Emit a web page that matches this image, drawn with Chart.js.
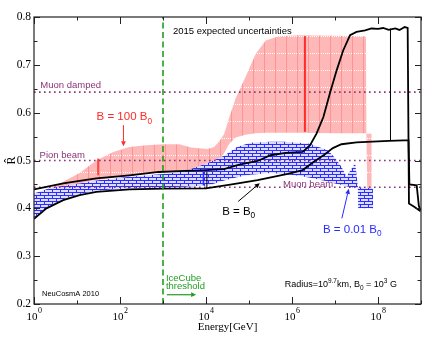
<!DOCTYPE html>
<html><head><meta charset="utf-8">
<script src="https://cdn.jsdelivr.net/npm/chart.js@4.4.0/dist/chart.umd.min.js"></script>
<style>html,body{margin:0;padding:0;background:#fff}</style>
</head><body>
<canvas id="c" width="438" height="338"></canvas>
<script>
// ---------- axes ----------
const xDecades = [0,1,2,3,4,5,6,7,8,9];
const xLabelled = [0,2,4,6,8];
const yMinorTicks = [0.25,0.35,0.45,0.55,0.65,0.75];

// ---------- reference flavour ratios ----------
const refLevels = [0.643, 0.5, 0.444];
const refNames = ['Muon damped', 'Pion beam', 'Muon beam'];
const thresholdLogE = 3;

// ---------- B = B0 (black curves) : log10(E/GeV), R ----------
const bB0UpperLogE = [0,0.68,1.06,1.45,2.22,2.9,3.65,4.0,4.42,4.75,5.2,5.5,5.85,6.25,6.42,6.57,6.73,6.88,7.04,7.19,7.35,7.5,7.7,7.85,8.0,8.12,8.25,8.4,8.5,8.62,8.69,8.72,8.85,8.99];
const bB0UpperR    = [0.4395,0.452,0.4575,0.4625,0.469,0.476,0.479,0.480,0.482,0.491,0.499,0.511,0.516,0.518,0.532,0.556,0.591,0.640,0.689,0.730,0.762,0.769,0.772,0.776,0.775,0.777,0.773,0.776,0.773,0.779,0.777,0.41,0.403,0.394];
const bB0LowerLogE = [0,0.29,0.68,1.06,1.45,2.22,3.0,4.0,4.6,5.2,5.9,6.25,6.5,6.75,6.95,7.15,7.5,7.75,8.25,8.6,8.71,8.73,8.9,8.95,8.99];
const bB0LowerR    = [0.378,0.400,0.417,0.4276,0.4345,0.4395,0.441,0.4416,0.450,0.459,0.472,0.480,0.497,0.512,0.526,0.534,0.538,0.539,0.541,0.542,0.542,0.450,0.448,0.405,0.396];

// ---------- B = 100 B0 (red band) ----------
const b100LogE = [0,0.35,0.68,1.06,1.45,1.84,2.22,2.61,3.0,3.38,3.65,4.03,4.19,4.31,4.42,4.54,4.69,4.92,5.16,5.39,5.69,6.16,7.0,7.72,7.73,7.75,7.85,7.86];
const b100Hi   = [0.430,0.440,0.4555,0.474,0.500,0.518,0.528,0.532,0.534,0.534,0.527,0.524,0.528,0.540,0.555,0.590,0.630,0.675,0.7235,0.751,0.760,0.762,0.761,0.760,0.557,0.556,0.556,0.440];
const b100Lo   = [0.428,0.434,0.444,0.452,0.459,0.464,0.468,0.472,0.476,0.479,0.481,0.485,0.490,0.500,0.515,0.535,0.548,0.554,0.557,0.558,0.558,0.558,0.557,0.557,0.557,0.440,0.440,0.440];

// ---------- B = 0.01 B0 (blue band) ----------
const b001LogE = [0,0.29,0.68,1.06,1.45,2.22,3.0,3.5,3.65,4.03,4.42,4.72,5.03,5.5,5.8,6.16,6.42,6.84,7.0,7.15,7.27,7.35,7.47,7.53,7.54,7.88,7.89];
const b001Hi   = [0.431,0.440,0.447,0.452,0.458,0.466,0.472,0.477,0.482,0.494,0.510,0.528,0.537,0.539,0.539,0.537,0.535,0.521,0.505,0.487,0.466,0.478,0.494,0.446,0.444,0.442,0.400];
const b001Lo   = [0.380,0.402,0.419,0.430,0.437,0.442,0.444,0.445,0.446,0.447,0.458,0.465,0.470,0.474,0.472,0.468,0.464,0.456,0.452,0.449,0.446,0.444,0.443,0.442,0.400,0.400,0.400];

// ---------- representative uncertainty bars ----------
const barLogE = [1.49, 6.30, 3.94, 4.02, 8.29];
const barLo   = [0.469, 0.560, 0.448, 0.442, 0.541];
const barHi   = [0.504, 0.760, 0.476, 0.476, 0.776];
const barSeries = ['red','red','blue','black','black'];

// ---------- helpers ----------
const E = l => Math.pow(10, l);
const pts = (le, v) => le.map((e, i) => ({x: E(e), y: v[i]}));
const ctx0 = document.getElementById('c').getContext('2d');

function redPattern() {
  const c = document.createElement('canvas'); c.width = 11; c.height = 17;
  const g = c.getContext('2d');
  g.fillStyle = '#ffb8b8'; g.fillRect(0,0,11,17);
  g.fillStyle = '#ff9494'; g.fillRect(0,0,1,17);
  g.fillStyle = '#ffffff'; for (let i = 2; i < 11; i += 2) g.fillRect(i,2,1,1);
  return ctx0.createPattern(c, 'repeat');
}
function bluePattern() {
  const c = document.createElement('canvas'); c.width = 8; c.height = 6;
  const g = c.getContext('2d');
  g.fillStyle = '#dcdcff'; g.fillRect(0,0,8,6);
  g.fillStyle = '#2c2cff';
  g.fillRect(0,0,8,1); g.fillRect(0,3,8,1); g.fillRect(0,0,1,3); g.fillRect(4,3,1,3);
  return ctx0.createPattern(c, 'repeat');
}

const colors = {red:'#ff2a2a', blue:'#2a2aff', black:'#000000'};
const purple = '#8a3479';
const green = '#1f9e1f';

const datasets = [];
datasets.push({label:'B=100B0 hi', data:pts(b100LogE,b100Hi), borderColor:'transparent', borderWidth:0, fill:false, order:30});
datasets.push({label:'B=100B0 lo', data:pts(b100LogE,b100Lo), borderColor:'transparent', borderWidth:0, backgroundColor:redPattern(), fill:'-1', order:30});
datasets.push({label:'B=0.01B0 hi', data:pts(b001LogE,b001Hi), borderColor:'transparent', borderWidth:0, fill:false, order:20});
datasets.push({label:'B=0.01B0 lo', data:pts(b001LogE,b001Lo), borderColor:'transparent', borderWidth:0, backgroundColor:bluePattern(), fill:'-1', order:20});
refLevels.forEach((v, i) => datasets.push({label:refNames[i], data:[{x:E(0),y:v},{x:E(9),y:v}], borderColor:purple, borderWidth:1.6, borderDash:[1.6,3.4], fill:false, order:12}));
barLogE.forEach((e, i) => datasets.push({label:'bar'+i, data:[{x:E(e),y:barLo[i]},{x:E(e),y:barHi[i]}], borderColor:colors[barSeries[i]], borderWidth: barSeries[i]==='black'?1:(i===1?2:1.5), fill:false, order:10}));
datasets.push({label:'B=B0 upper', data:pts(bB0UpperLogE,bB0UpperR), borderColor:'#000', borderWidth:1.8, fill:false, order:5});
datasets.push({label:'B=B0 lower', data:pts(bB0LowerLogE,bB0LowerR), borderColor:'#000', borderWidth:1.8, fill:false, order:5});
datasets.push({label:'IceCube threshold', data:[{x:E(thresholdLogE),y:0.2},{x:E(thresholdLogE),y:0.8}], borderColor:green, borderWidth:1.6, borderDash:[6,3.5], fill:false, order:1});

const SANS = '"Liberation Sans", Arial, Helvetica, sans-serif';
const SERIF = '"Liberation Serif", "Times New Roman", serif';

function rich(ctx, parts, x, y, size, color, align) {
  ctx.fillStyle = color; ctx.textBaseline = 'middle'; ctx.textAlign = 'left';
  let total = 0;
  parts.forEach(p => { const s = p[1] ? size*0.72 : size; ctx.font = s + 'px ' + SANS; total += ctx.measureText(p[0]).width; });
  let cx = align === 'center' ? x - total/2 : x;
  parts.forEach(p => {
    const s = p[1] ? size*0.72 : size;
    ctx.font = s + 'px ' + SANS;
    const dy = p[1] === 'sub' ? size*0.38 : (p[1] === 'sup' ? -size*0.38 : 0);
    ctx.fillText(p[0], cx, y + dy);
    cx += ctx.measureText(p[0]).width;
  });
}
function arrow(ctx, x1, y1, x2, y2, color, w) {
  ctx.strokeStyle = color; ctx.fillStyle = color; ctx.lineWidth = w || 1;
  const ang = Math.atan2(y2-y1, x2-x1), h = 5, hw = 2.4;
  const bx = x2 - h*Math.cos(ang), by = y2 - h*Math.sin(ang);
  ctx.beginPath(); ctx.moveTo(x1,y1); ctx.lineTo(bx,by); ctx.stroke();
  ctx.beginPath(); ctx.moveTo(x2,y2);
  ctx.lineTo(bx + hw*Math.sin(ang), by - hw*Math.cos(ang));
  ctx.lineTo(bx - hw*Math.sin(ang), by + hw*Math.cos(ang));
  ctx.closePath(); ctx.fill();
}

const deco = {
  id: 'deco',
  afterDraw(chart) {
    const {ctx, chartArea: a, scales: {x, y}} = chart;
    const X = l => x.getPixelForValue(E(l));
    const Y = v => y.getPixelForValue(v);
    ctx.save();
    ctx.strokeStyle = '#222'; ctx.lineWidth = 1.2;
    ctx.strokeRect(a.left, a.top, a.right - a.left, a.bottom - a.top);
    ctx.lineWidth = 1; ctx.strokeStyle = '#222';
    const seg = (x1,y1,x2,y2) => { ctx.beginPath(); ctx.moveTo(x1,y1); ctx.lineTo(x2,y2); ctx.stroke(); };
    y.ticks.forEach(t => { const p = Math.round(Y(t.value)) + 0.5; seg(a.left,p,a.left+6,p); seg(a.right,p,a.right-6,p); });
    yMinorTicks.forEach(v => { const p = Math.round(Y(v)) + 0.5; seg(a.left,p,a.left+3.5,p); seg(a.right,p,a.right-3.5,p); });
    xDecades.forEach(d => {
      const p = Math.round(X(d)) + 0.5; const L = xLabelled.includes(d) ? 7 : 3.5;
      seg(p,a.bottom,p,a.bottom-L); seg(p,a.top,p,a.top+L);
    });
    ctx.fillStyle = '#000'; ctx.textBaseline = 'alphabetic'; ctx.textAlign = 'left';
    xLabelled.forEach(d => {
      ctx.font = '11px ' + SERIF; const w1 = ctx.measureText('10').width;
      ctx.font = '8px ' + SERIF; const w2 = ctx.measureText(String(d)).width;
      const sx = X(d) - (w1 + w2)/2;
      ctx.font = '11px ' + SERIF; ctx.fillText('10', sx, a.bottom + 15.5);
      ctx.font = '8px ' + SERIF; ctx.fillText(String(d), sx + w1 + 0.5, a.bottom + 8.5);
    });
    rich(ctx, [['2015 expected uncertainties']], X(3.23), Y(0.769), 9.5, '#000');
    rich(ctx, [[refNames[0]]], X(0.146), Y(0.657), 9.5, purple);
    rich(ctx, [[refNames[1]]], X(0.13), Y(0.511), 9.5, purple);
    rich(ctx, [[refNames[2]]], X(5.79), Y(0.4505), 9.5, purple);
    rich(ctx, [['B = 100 B'],['0','sub']], X(1.455), Y(0.591), 11.5, colors.red);
    arrow(ctx, X(2.08), Y(0.574), X(2.08), Y(0.530), colors.red, 1);
    rich(ctx, [['B = B'],['0','sub']], X(4.375), Y(0.3936), 11.5, '#000');
    arrow(ctx, X(4.75), Y(0.4145), X(5.25), Y(0.4527), '#000', 1);
    rich(ctx, [['B = 0.01 B'],['0','sub']], X(6.72), Y(0.3555), 11.5, colors.blue);
    arrow(ctx, X(7.16), Y(0.3792), X(7.32), Y(0.4408), colors.blue, 1);
    rich(ctx, [['NeuCosmA 2010']], X(0.186), Y(0.2209), 7.5, '#000');
    rich(ctx, [['IceCube']], X(3.067), Y(0.2543), 9.5, green);
    rich(ctx, [['threshold']], X(3.067), Y(0.2369), 9.5, green);
    arrow(ctx, X(3.09), Y(0.2194), X(3.77), Y(0.2194), green, 1.2);
    rich(ctx, [['Radius=10'],['9.7','sup'],['km, B'],['0','sub'],[' = 10'],['3','sup'],[' G']], X(5.83), Y(0.2403), 9, '#000');
    ctx.restore();
  }
};

new Chart(ctx0, {
  type: 'line',
  data: {datasets},
  options: {
    responsive: false, animation: false, events: [], devicePixelRatio: 1,
    layout: {padding: {top: 17, right: 17, left: 0, bottom: 0}},
    elements: {point: {radius: 0}, line: {tension: 0}},
    plugins: {legend: {display: false}, tooltip: {enabled: false}, filler: {propagate: false, drawTime: 'beforeDatasetDraw'}},
    scales: {
      x: {type: 'logarithmic', min: 1, max: 1e9,
          grid: {display: false, drawTicks: false}, border: {display: false},
          ticks: {display: false},
          title: {display: true, text: 'Energy[GeV]', color: '#000', font: {family: SERIF, size: 11}, padding: {top: 0, bottom: 4}},
          afterFit(s) { s.height = 34; }},
      y: {min: 0.2, max: 0.8,
          grid: {display: false, drawTicks: false}, border: {display: false},
          ticks: {stepSize: 0.1, color: '#000', padding: 3, font: {family: SERIF, size: 11.5}, callback: v => v.toFixed(1)},
          title: {display: true, text: 'R\u0302', color: '#000', font: {family: SERIF, size: 12}, padding: {top: 5, bottom: 0}},
          afterFit(s) { s.width = 34; }}
    }
  },
  plugins: [deco]
});
</script>
</body></html>
